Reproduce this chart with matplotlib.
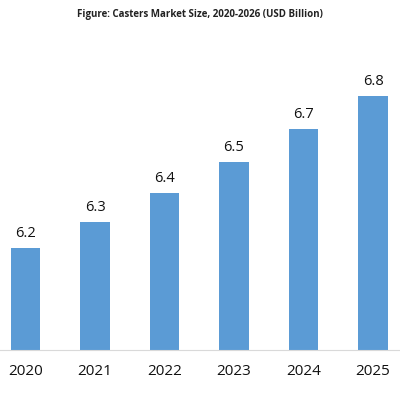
import matplotlib.pyplot as plt

# Dados
anos    = ['2020', '2021', '2022', '2023', '2024', '2025']
valores = [6.2, 6.305, 6.42, 6.54, 6.67, 6.8]   # USD Bilhões (estimado)
titulo  = 'Figure: Casters Market Size, 2020-2026 (USD Billion)'

plt.rcParams['font.family'] = ['Open Sans', 'DejaVu Sans']

fig = plt.figure(figsize=(4, 4), dpi=100)
ax = fig.add_axes([0, 0.125, 1, 0.75])

x = range(len(anos))
ax.bar(x, valores, width=0.42, color='#5B9BD5')
for xi, v in zip(x, valores):
    ax.annotate(f'{v:.1f}', (xi, v), xytext=(0, 5), textcoords='offset points',
                ha='center', va='bottom', fontsize=10.5, color='#111111')

ax.set_xlim(-0.367, 5.388)
ax.set_ylim(5.8, 5.8 + 300 / 254)
ax.set_xticks(list(x))
ax.set_xticklabels(anos, fontsize=11, color='#111111')
ax.tick_params(axis='x', length=0, pad=10)
ax.set_yticks([])
for s in ['top', 'left', 'right']:
    ax.spines[s].set_visible(False)
ax.spines['bottom'].set_color('#D9D9D9')

fig.text(0.5, 0.965, titulo, ha='center', va='center', fontsize=7, fontweight='bold', color='#222222')

fig.savefig('out.png', dpi=100)
